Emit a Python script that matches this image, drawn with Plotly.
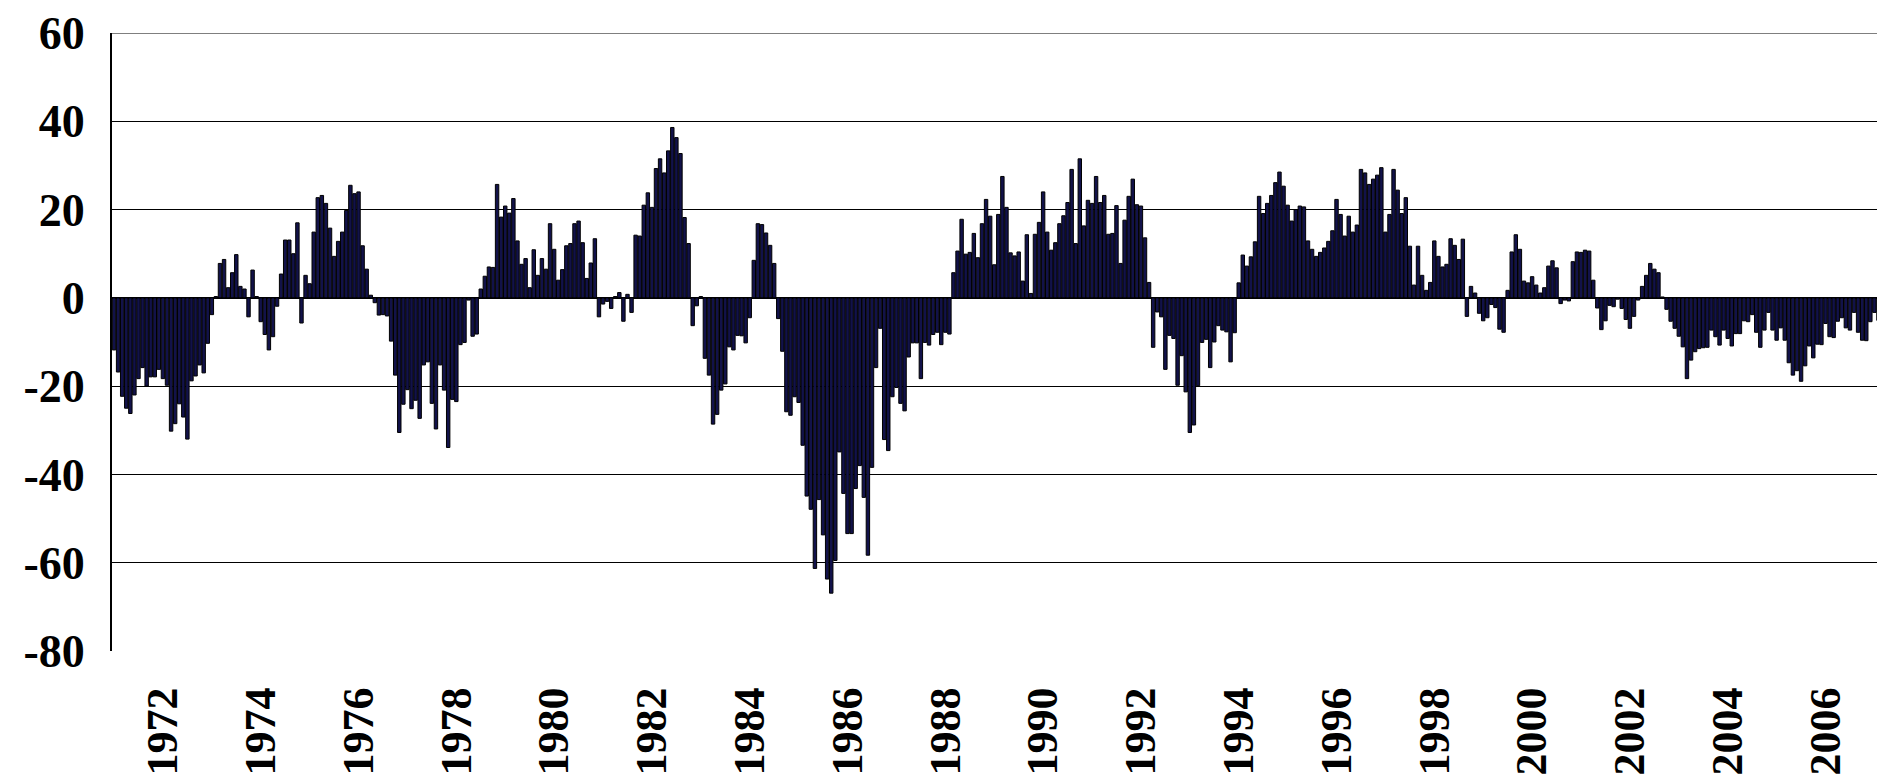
import plotly.graph_objects as go

# Monthly values, Jan 1971 onward
vals_1971_1979 = [
    -11.8, -16.8, -22.3, -25, -26.2, -22, -18.3, -15.8, -20, -17.9, -17.9, -16.2,
    -18.3, -19.8, -30.2, -28.5, -24, -27, -32, -18.8, -17.7, -15.2, -17, -10.3,
    -3.8, 0.3, 7.8, 8.7, 2.3, 5.7, 9.8, 2.6, 2, -4.3, 6.3, 0.3,
    -5.4, -8.3, -11.8, -8.8, -1.9, 5.4, 13.1, 13.1, 10, 17, -5.7, 5.1,
    3.2, 14.9, 22.7, 23.2, 21.4, 15.8, 9.4, 12.8, 14.9, 19.8, 25.5, 23.6,
    24, 11.8, 6.5, 0.6, -1.1, -3.9, -3.8, -4.1, -9.8, -17.5, -30.5, -24.1,
    -20.8, -25.1, -23.2, -27.3, -15.2, -14.5, -23.9, -29.7, -15.2, -20.9, -33.9, -23,
    -23.5, -10.6, -10.1, -0.5, -8.7, -8.2, 2, 4.9, 7, 6.9, 25.7, 18.3,
    20.8, 19.2, 22.5, 12.9, 7.6, 8.9, 2.3, 10.9, 5.1, 8.9, 6.5, 16.8,
]
vals_1980_1989 = [
    11, 4, 6.4, 11.8, 12.3, 16.8, 17.4, 12.5, 4.4, 7.9, 13.4, -4.3,
    -1.4, -0.8, -2.4, 0.3, 1.2, -5.3, 0.8, -3.3, 14.2, 14, 21, 23.8,
    20.5, 29.3, 31.5, 28.3, 33.3, 38.6, 36.3, 32.7, 18.2, 12.3, -6.3, -1.8,
    0.3, -13.7, -17.5, -28.6, -26.4, -20.9, -19.5, -11.1, -11.8, -8.5, -8.6, -10.2,
    -4.5, 8.5, 16.8, 16.6, 14.7, 11.9, 7.8, -4.7, -12.1, -25.8, -26.6, -22.4,
    -23.7, -33.4, -44.9, -47.9, -61.3, -45.7, -53.7, -63.7, -66.9, -59.5, -34.9, -44.3,
    -53.4, -53.4, -43.2, -38, -45.2, -58.3, -38.4, -15.8, -6.9, -32.1, -34.6, -22.4,
    -20.3, -23.9, -25.6, -13.4, -10.2, -10.2, -18.3, -10.1, -10.7, -8.3, -7.8, -10.6,
    -7.8, -8.2, 5.7, 10.6, 17.8, 9.9, 10.3, 14.6, 9.1, 16.8, 22.3, 18.5,
    7.5, 18.9, 27.5, 20.5, 10.2, 9.5, 10.4, 3.8, 14.3, 1.0, 14.4, 17.1,
]
vals_1990_1999 = [
    24, 14.9, 10.8, 12.5, 16.8, 18.6, 21.6, 29.1, 12.3, 31.5, 16.3, 22.1,
    21.4, 27.5, 21.6, 23.2, 14.4, 14.6, 20.9, 7.8, 17.6, 23, 26.9, 21.1,
    20.8, 13.6, 3.5, -11.2, -3.2, -4.3, -16.2, -8.5, -9.2, -19.8, -13.1, -21.3,
    -30.5, -28.8, -19.9, -10.1, -9.4, -15.8, -10, -6.3, -7.3, -7.7, -14.5, -7.9,
    3.4, 9.7, 7.2, 9.3, 12.7, 23, 19.1, 21.4, 23.2, 26.1, 28.5, 25.3,
    21, 17.4, 20, 20.8, 20.6, 12.9, 11, 9.4, 10.3, 11.3, 12.8, 15.2,
    22.3, 18.9, 14, 18.5, 14.9, 16.5, 29.1, 28.3, 25.7, 26.9, 27.8, 29.5,
    14.9, 18.9, 29.1, 24.4, 19.1, 22.7, 11.7, 2.9, 11.7, 5.1, 1.7, 3.5,
    12.9, 9.4, 7.0, 7.6, 13.4, 11.9, 8.7, 13.3, -4.2, 2.6, 1.1, -3.5,
    -5.2, -4.5, -1.5, -2.2, -7.1, -7.8, 1.7, 10.4, 14.3, 11, 3.8, 3.4,
]
vals_2000_2007 = [
    4.8, 2.9, 1.1, 2.3, 7.2, 8.4, 6.8, -1.3, -0.5, -0.7, 8.2, 10.4,
    10.3, 10.8, 10.6, 4.0, -2.3, -7.2, -5.2, -1.7, -2.0, -0.3, -2.4, -4.9,
    -6.9, -4.2, -0.5, 2.6, 5.1, 7.8, 6.5, 5.7, 0.2, -2.6, -5.3, -6.9,
    -8.7, -11.1, -18.3, -14.1, -12.2, -11.5, -11.3, -11.2, -7.3, -8.8, -10.7, -7.3,
    -9.2, -10.9, -8.1, -8.1, -5.2, -5.4, -3.8, -7.8, -11.2, -7.3, -3.3, -7.3,
    -9.6, -6.8, -9.6, -14.7, -17.5, -16.5, -18.9, -15.4, -10.9, -13.6, -10.5, -10.6,
    -5.8, -8.8, -9, -5.3, -4.5, -6.8, -7.3, -3.3, -7.8, -9.6, -9.7, -5.4,
    -3.3, -5.1, -3.2,
]

start_year = 1971
tick_years = list(range(1972, 2007, 2))
y_ticks = [-80, -60, -40, -20, 0, 20, 40, 60]
y_tick_labels = ["-80", "-60", "-40", "-20", "0", "20", "40", "60"]

values = vals_1971_1979 + vals_1980_1989 + vals_1990_1999 + vals_2000_2007
x_idx = list(range(len(values)))
tick_pos = [(yr - start_year) * 12 for yr in tick_years]
tick_txt = [str(yr) for yr in tick_years]

fig = go.Figure(go.Bar(
    x=x_idx, y=values,
    marker=dict(color="#12124a", line=dict(color="#000000", width=1)),
))

font_fam = "Liberation Serif, Times New Roman, serif"
# the page body has an 8px margin; figure sized so the plot spans x 112..1885, y 33..651
fig.update_layout(
    width=1877, height=771, autosize=False,
    margin=dict(l=104, r=0, t=25, b=128),
    paper_bgcolor="white", plot_bgcolor="white",
    bargap=0.16, showlegend=False,
    font=dict(family=font_fam, color="black"),
)
fig.update_xaxes(
    range=[-0.5, 434.6], automargin=False,
    tickmode="array", tickvals=tick_pos, ticktext=tick_txt,
    tickangle=-90, tickfont=dict(size=44, family=font_fam, color="black", weight="bold"),
    showgrid=False, showline=False, zeroline=False,
    ticks="outside", ticklen=18, tickcolor="rgba(0,0,0,0)",
)
fig.update_yaxes(
    range=[-80, 60], automargin=False, tickmode="array",
    tickvals=y_ticks, ticktext=y_tick_labels,
    tickfont=dict(size=46, family=font_fam, color="black", weight="bold"),
    showgrid=True, gridcolor="black", gridwidth=1,
    zeroline=True, zerolinecolor="black", zerolinewidth=2,
    showline=True, linecolor="black", linewidth=2,
    ticks="outside", ticklen=16, tickcolor="rgba(0,0,0,0)",
)
# top border line at the axis maximum (as in the reference)
fig.add_shape(type="line", xref="paper", yref="y", x0=0, x1=1, y0=y_ticks[-1], y1=y_ticks[-1],
              line=dict(color="black", width=1))

fig.write_html("out.html")
